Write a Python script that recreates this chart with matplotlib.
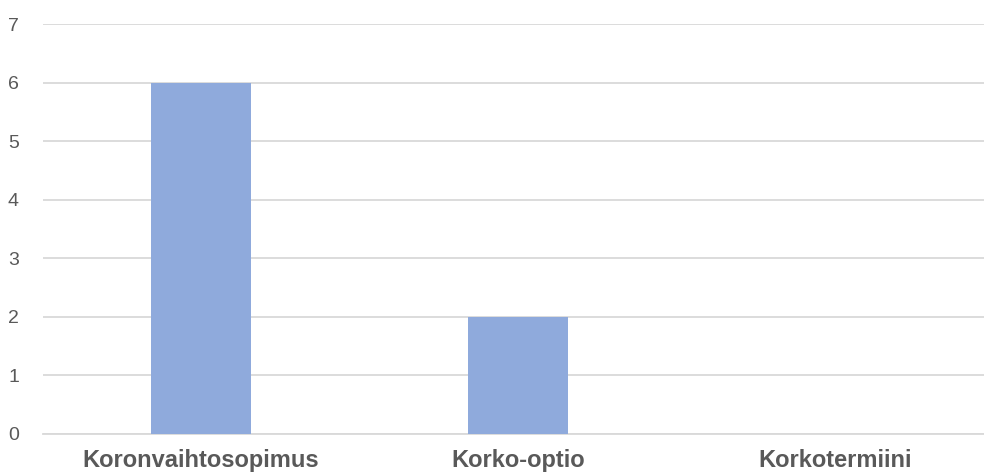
import matplotlib.pyplot as plt

categories = ['Koronvaihtosopimus', 'Korko-optio', 'Korkotermiini']
values = [6, 2, 0]

plt.rcParams['font.family'] = ['Liberation Sans', 'DejaVu Sans']

fig = plt.figure(figsize=(9.84, 4.73), dpi=100)
ax = fig.add_axes([0.0432, 0.0825, 0.9665, 0.8665])

ax.bar(range(len(categories)), values, color='#8faadc', width=0.315, zorder=3)

ax.set_xlim(-0.5, 2.5)
ax.set_ylim(0, 7)
ax.set_yticks(range(0, 8))
ax.set_xticks(range(len(categories)))
ax.set_xticklabels(categories, fontsize=17, fontweight='bold', color='#595959')

ax.yaxis.grid(True, color='#d9d9d9', linewidth=1.3, zorder=0)
for s in ['top', 'right', 'left']:
    ax.spines[s].set_visible(False)
ax.spines['bottom'].set_color('#d9d9d9')
ax.spines['bottom'].set_linewidth(1.3)
ax.tick_params(axis='y', length=0, labelsize=14, labelcolor='#595959', pad=17)
ax.tick_params(axis='x', length=0, pad=11)

plt.savefig('out.png', dpi=100)
